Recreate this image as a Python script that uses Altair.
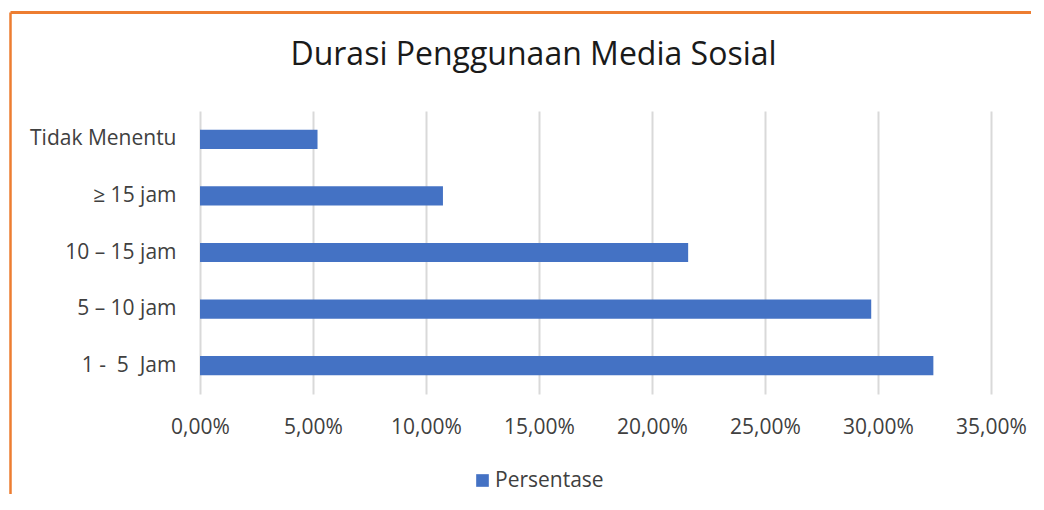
import altair as alt
import pandas as pd

categories = ["Tidak Menentu", "\u2265 15 jam", "10 \u2013 15 jam", "5 \u2013 10 jam", "1 -\u00a0 5 \u00a0Jam"]
values = [5.2, 10.75, 21.6, 29.7, 32.45]
series = ["Persentase"] * len(categories)
tick_values = [0, 5, 10, 15, 20, 25, 30, 35]

df = pd.DataFrame({"Durasi": categories, "Persentase": values, "Seri": series})

FONT = "Open Sans"
TXT = "#404040"
ORANGE = "#ED7D31"

bars = alt.Chart(df).mark_bar(color="#4472C4").encode(
    y=alt.Y(
        "Durasi:N",
        sort=categories,
        scale=alt.Scale(paddingInner=0.66, paddingOuter=0.33),
        axis=alt.Axis(
            title=None, domain=False, ticks=False, grid=False,
            labelFont=FONT, labelFontSize=21, labelColor=TXT, labelPadding=24,
        ),
    ),
    x=alt.X(
        "Persentase:Q",
        scale=alt.Scale(domain=[0, 35], nice=False),
        axis=alt.Axis(
            title=None, domain=False, ticks=False, values=tick_values,
            grid=True, gridColor="#D9D9D9", gridWidth=2,
            labelFont=FONT, labelFontSize=21, labelColor=TXT, labelPadding=22,
            labelFlush=False, labelOverlap=False,
            labelExpr="replace(format(datum.value, '.2f'), '.', ',') + '%'",
        ),
    ),
    color=alt.Color(
        "Seri:N",
        scale=alt.Scale(range=["#4472C4"]),
        legend=alt.Legend(
            title=None, orient="none", legendX=272, legendY=359,
            symbolType="square", symbolSize=160, symbolStrokeWidth=0,
            labelFont=FONT, labelFontSize=21, labelColor=TXT, labelOffset=2,
        ),
    ),
)

frame_df = pd.DataFrame({"k": [0]})
top_line = alt.Chart(frame_df).mark_rule(color=ORANGE, strokeWidth=3).encode(
    x=alt.value(-189.5), x2=alt.value(831), y=alt.value(-98.5)
)
left_line = alt.Chart(frame_df).mark_rule(color=ORANGE, strokeWidth=2.5).encode(
    x=alt.value(-189.5), y=alt.value(-98.5), y2=alt.value(400)
)

chart = alt.layer(bars, top_line, left_line).properties(
    width=791,
    height=283,
    autosize=alt.AutoSizeParams(type="none"),
    padding={"left": 192, "top": 103, "right": 40, "bottom": 100},
    title=alt.TitleParams(
        "Durasi Penggunaan Media Sosial",
        font=FONT, fontSize=32, fontWeight="normal", color="#1a1a1a",
        anchor="middle", dx=-62, offset=-61,
    ),
).configure_view(stroke=None)

chart.save("out.html", embed_options={"renderer": "svg", "actions": False})
